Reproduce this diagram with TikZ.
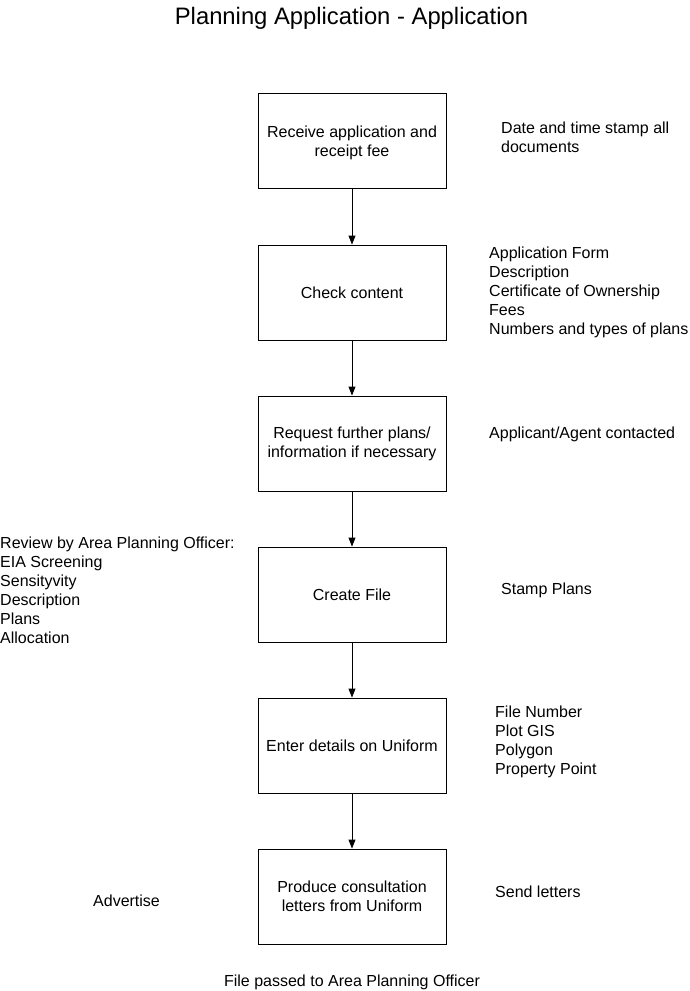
\documentclass[tikz,border=0pt]{standalone}
\usepackage{fontspec}
\setmainfont{Liberation Sans}
\usetikzlibrary{arrows.meta}
\begin{document}
\begin{tikzpicture}[x=1pt,y=-1pt,
  stepbox/.style={draw=black,line width=0.9pt,minimum width=188pt,minimum height=95pt,align=center,inner sep=0pt,font=\fontsize{16}{19}\selectfont},
  note/.style={anchor=west,align=left,inner sep=0pt,font=\fontsize{16}{19}\selectfont},
  flow/.style={-{Triangle[length=9pt,width=7pt]},line width=0.9pt}]
\useasboundingbox (0,0) rectangle (689,991);
\node[inner sep=0pt,font=\fontsize{23.8}{28}\selectfont] (title) at (351.5,18.5) {Planning Application - Application};
\node[stepbox,text depth=0pt] (b1) at (352,141) {Receive application and\\receipt fee};
\node[stepbox] (b2) at (352,292.5) {Check content};
\node[stepbox] (b3) at (352,443.5) {Request further plans/\\information if necessary};
\node[stepbox] (b4) at (352,594.5) {Create File};
\node[stepbox] (b5) at (352,745.5) {Enter details on Uniform};
\node[stepbox] (b6) at (352,896.5) {Produce consultation\\letters from Uniform};
\draw[flow] (b1) -- (b2);
\draw[flow] (b2) -- (b3);
\draw[flow] (b3) -- (b4);
\draw[flow] (b4) -- (b5);
\draw[flow] (b5) -- (b6);
\node[note] (n1) at (501,137.5) {Date and time stamp all\\documents};
\node[note] (n2) at (489,292.5) {Application Form\\Description\\Certificate of Ownership\\Fees\\Numbers and types of plans};
\node[note] (n3) at (489,434) {Applicant/Agent contacted};
\node[note] (n4) at (0,590.5) {Review by Area Planning Officer:\\EIA Screening\\Sensityvity\\Description\\Plans\\Allocation};
\node[note] (n5) at (501,590) {Stamp Plans};
\node[note] (n6) at (495,742) {File Number\\Plot GIS\\Polygon\\Property Point};
\node[note] (n7) at (93,901) {Advertise};
\node[note] (n8) at (495,892) {Send letters};
\node[inner sep=0pt,font=\fontsize{16}{19}\selectfont] (n9) at (352,982) {File passed to Area Planning Officer};
\end{tikzpicture}
\end{document}
